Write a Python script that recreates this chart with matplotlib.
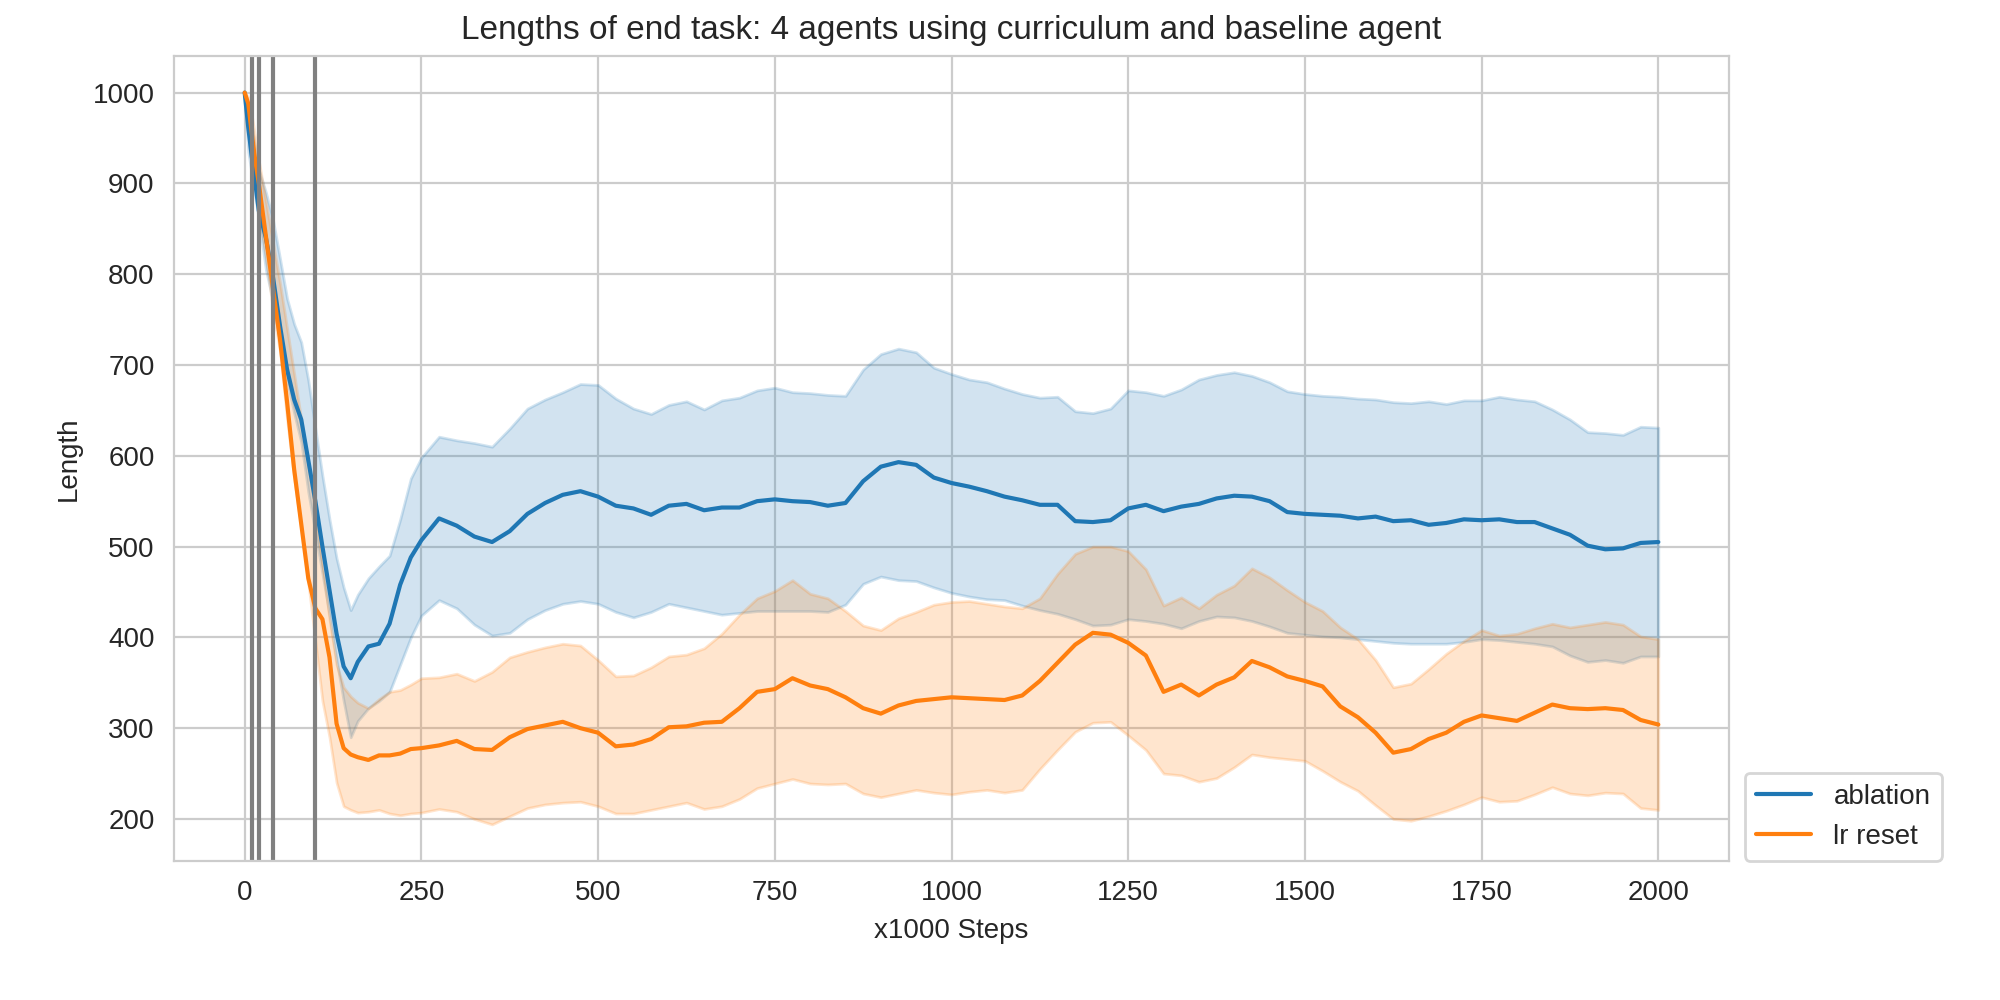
import numpy as np
import matplotlib
matplotlib.use("Agg")
import matplotlib.pyplot as plt
import seaborn as sns

# -----------------------------------------------------
# Data
# -----------------------------------------------------

steps = [
    0, 5, 10, 15, 20, 30, 40, 50, 60, 70, 80, 90, 100, 110, 120, 130, 140,
    150, 160, 175, 190, 205, 220, 235, 250, 275, 300, 325, 350, 375, 400,
    425, 450, 475, 500, 525, 550, 575, 600, 625, 650, 675, 700, 725, 750,
    775, 800, 825, 850, 875, 900, 925, 950, 975, 1000, 1025, 1050, 1075,
    1100, 1125, 1150, 1175, 1200, 1225, 1250, 1275, 1300, 1325, 1350, 1375,
    1400, 1425, 1450, 1475, 1500, 1525, 1550, 1575, 1600, 1625, 1650, 1675,
    1700, 1725, 1750, 1775, 1800, 1825, 1850, 1875, 1900, 1925, 1950, 1975,
    2000,
]

ablation_mean = [
    1000, 962, 930, 900, 870, 840, 797, 743, 695, 662, 640, 595, 550, 500,
    452, 404, 368, 355, 373, 390, 393, 415, 458, 488, 507, 531, 523, 511,
    505, 517, 536, 548, 557, 561, 555, 545, 542, 535, 545, 547, 540, 543,
    543, 550, 552, 550, 549, 545, 548, 572, 588, 593, 590, 576, 570, 566,
    561, 555, 551, 546, 546, 528, 527, 529, 542, 546, 539, 544, 547, 553,
    556, 555, 550, 538, 536, 535, 534, 531, 533, 528, 529, 524, 526, 530,
    529, 530, 527, 527, 520, 513, 501, 497, 498, 504, 505,
]
ablation_low = [
    1000, 935, 910, 885, 860, 805, 770, 725, 683, 647, 615, 560, 515, 470,
    425, 375, 330, 290, 308, 322, 330, 340, 370, 400, 424, 441, 432, 414,
    402, 405, 420, 430, 437, 440, 437, 428, 422, 428, 437, 433, 429, 425,
    427, 429, 429, 429, 429, 428, 436, 459, 467, 463, 462, 455, 449, 445,
    442, 441, 435, 430, 426, 420, 413, 414, 420, 418, 415, 410, 418, 423,
    422, 418, 412, 405, 403, 401, 400, 398, 396, 394, 393, 393, 393, 395,
    398, 397, 395, 393, 390, 380, 373, 375, 372, 379, 379,
]
ablation_high = [
    1000, 985, 965, 935, 915, 890, 860, 817, 773, 745, 725, 683, 630, 578,
    530, 487, 455, 430, 447, 465, 478, 490, 530, 575, 598, 621, 617, 614,
    610, 630, 652, 662, 670, 679, 678, 663, 652, 646, 656, 660, 651, 661,
    664, 672, 675, 670, 669, 667, 666, 695, 712, 718, 714, 697, 690, 684,
    681, 674, 668, 664, 665, 649, 647, 652, 672, 670, 666, 673, 684, 689,
    692, 688, 681, 671, 668, 666, 665, 663, 662, 659, 658, 660, 657, 661,
    661, 665, 662, 660, 651, 640, 626, 625, 623, 632, 631,
]

lr_reset_mean = [
    1000, 988, 955, 925, 900, 842, 785, 728, 659, 585, 525, 465, 432, 420,
    378, 305, 278, 271, 268, 265, 270, 270, 272, 277, 278, 281, 286, 277,
    276, 290, 299, 303, 307, 300, 295, 280, 282, 288, 301, 302, 306, 307,
    322, 340, 343, 355, 347, 343, 334, 322, 316, 325, 330, 332, 334, 333,
    332, 331, 336, 352, 372, 392, 405, 403, 394, 380, 340, 348, 336, 348,
    356, 374, 367, 357, 352, 346, 324, 312, 295, 273, 277, 288, 295, 307,
    314, 311, 308, 317, 326, 322, 321, 322, 320, 309, 304,
]
lr_reset_low = [
    1000, 970, 935, 895, 870, 820, 760, 715, 640, 575, 520, 460, 395, 330,
    290, 240, 214, 210, 207, 208, 210, 206, 204, 206, 207, 211, 208, 200,
    194, 203, 212, 216, 218, 219, 214, 206, 206, 210, 214, 218, 211, 214,
    222, 234, 239, 244, 239, 238, 239, 228, 224, 228, 232, 229, 227, 230,
    232, 229, 232, 255, 276, 296, 306, 307, 292, 276, 250, 248, 241, 245,
    257, 271, 268, 266, 264, 253, 241, 231, 215, 200, 198, 203, 209, 216,
    224, 219, 220, 227, 235, 228, 226, 229, 228, 212, 210,
]
lr_reset_high = [
    1000, 995, 975, 950, 925, 880, 835, 790, 740, 690, 640, 590, 540, 480,
    420, 370, 345, 335, 328, 322, 332, 340, 342, 348, 355, 356, 360, 352,
    362, 378, 384, 389, 393, 391, 375, 357, 358, 367, 379, 381, 388, 404,
    425, 443, 451, 463, 448, 443, 429, 413, 408, 421, 428, 436, 439, 440,
    437, 434, 432, 443, 470, 492, 500, 500, 495, 475, 435, 444, 432, 447,
    457, 476, 466, 452, 439, 429, 411, 398, 375, 345, 349, 365, 382, 396,
    408, 402, 404, 410, 415, 411, 414, 417, 414, 401, 398,
]

curriculum_switches = [10, 20, 40, 100]

# -----------------------------------------------------
# Style
# -----------------------------------------------------

sns.set_style("whitegrid")
plt.rcParams["font.family"] = ["Liberation Sans", "DejaVu Sans"]

blue = "#1f77b4"
orange = "#ff7f0e"

# -----------------------------------------------------
# Plot
# -----------------------------------------------------

fig, ax = plt.subplots(figsize=(10, 5), dpi=200)
fig.subplots_adjust(left=0.087, right=0.8645, bottom=0.139, top=0.944)

ax.fill_between(steps, ablation_low, ablation_high, color=blue, alpha=0.2)
ax.plot(steps, ablation_mean, color=blue, linewidth=1.5, label="ablation")

ax.fill_between(steps, lr_reset_low, lr_reset_high, color=orange, alpha=0.2)
ax.plot(steps, lr_reset_mean, color=orange, linewidth=1.5, label="lr reset")

for s in curriculum_switches:
    ax.axvline(s, color="gray", linewidth=1.5)

ax.set_xticks([0, 250, 500, 750, 1000, 1250, 1500, 1750, 2000])
ax.set_yticks([200, 300, 400, 500, 600, 700, 800, 900, 1000])

ax.set_title("Lengths of end task: 4 agents using curriculum and baseline agent")
ax.set_xlabel("x1000 Steps")
ax.set_ylabel("Length")

ax.legend(loc="lower left", bbox_to_anchor=(1.01, 0), borderaxespad=0)

fig.savefig("out.png", dpi=200)
plt.close(fig)
